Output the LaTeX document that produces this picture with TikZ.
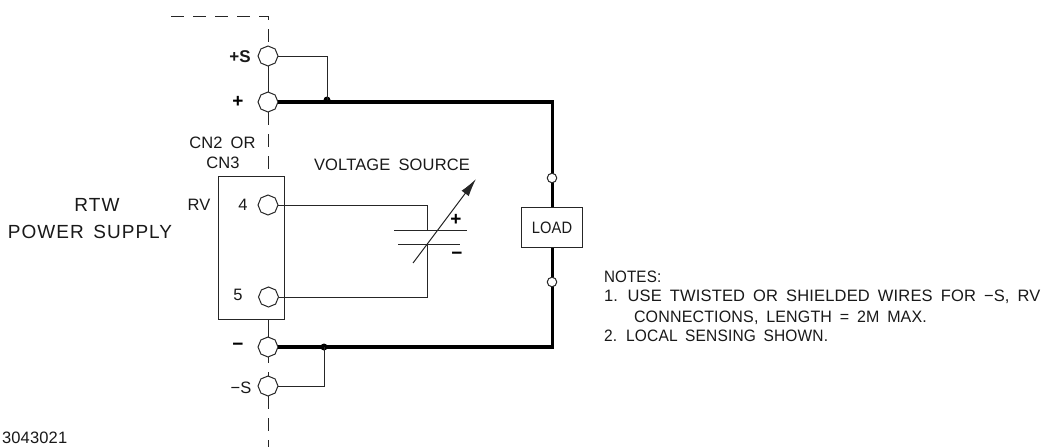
\documentclass[tikz,border=0pt]{standalone}
\usepackage{fontspec}
\usepackage{graphicx}
\setmainfont{Liberation Sans}[LetterSpace=1,WordSpace=1.7]
\newfontfamily\wide{Liberation Sans}[LetterSpace=5.5,WordSpace=1.5]
\usetikzlibrary{shapes.geometric,arrows.meta}
\tikzset{
  wire/.style={line width=1pt,draw=black!85},
  power/.style={line width=3.6pt,draw=black,line join=miter},
  dashwire/.style={wire,dash pattern=on 12.5pt off 9.5pt},
  term/.style={regular polygon,regular polygon sides=8,regular polygon rotate=22.5,draw=black!85,line width=1pt,fill=white,inner sep=0pt,outer sep=0pt,minimum size=20pt},
  smallterm/.style={circle,draw=black!85,line width=1pt,fill=white,inner sep=0pt,outer sep=0pt,minimum size=9.5pt},
  dot/.style={circle,fill=black,inner sep=0pt,minimum size=7pt},
  boxx/.style={rectangle,draw=black!85,line width=1pt,fill=white,inner sep=0pt,outer sep=0pt},
  lab/.style={inner sep=0pt,outer sep=0pt,font=\fontsize{16.5}{16.5}\selectfont,text=black!90},
  big/.style={inner sep=0pt,outer sep=0pt,font=\wide\fontsize{19}{19}\selectfont,text=black!90},
  sym/.style={inner sep=0pt,outer sep=0pt,font=\bfseries\fontsize{19}{19}\selectfont,text=black},
}
\begin{document}
\begin{tikzpicture}[x=1pt,y=-1pt]
\useasboundingbox (0,0) rectangle (1052,447);
\fill[white] (0,0) rectangle (1052,447);
% nodes
\node[boxx,minimum width=66pt,minimum height=143pt] (block) at (251,247.5) {};
\node[term] (tps) at (268,56) {};
\node[term] (tp) at (268,102) {};
\node[term] (t4) at (268,205) {};
\node[term] (t5) at (268.5,297) {};
\node[term] (tm) at (268,347) {};
\node[term] (tms) at (268,386) {};
\coordinate (dstart) at (171,16);
\coordinate (dcorner) at (268,16);
\coordinate (dend) at (268,447);
\coordinate (c1) at (552.5,102);
\coordinate (c2) at (552.5,347);
\coordinate (jt) at (327,100);
\coordinate (jb) at (324,347);
\coordinate (p1a) at (394,230);
\coordinate (p1b) at (467,230);
\coordinate (p2a) at (398,244);
\coordinate (p2b) at (460,244);
\coordinate (bt) at (427,230);
\coordinate (bb) at (427,244);
\coordinate (as) at (413,263);
\coordinate (ae) at (476,179);
% dashed supply
\draw[dashwire] (dstart) -- (dcorner) -- (tps.north);
\draw[wire] (tps.south) -- (tp.north);
\draw[dashwire] (tp.south) -- (block.north -| tp.south);
\draw[wire] (block.south -| tm.north) -- (tm.north);
\draw[dashwire,dash pattern=on 6pt off 9pt] (tm.south) -- (tms.north);
\draw[dashwire] (tms.south) -- (dend);
% power
\draw[power] (tp.east) -- (c1) -- (c2) -- (tm.east);
\node[dot] (dt) at (jt) {};
\node[dot] (db) at (jb) {};
\draw[wire] (tps.east) -| (dt.center);
\draw[wire] (tms.east) -| (db.center);
% load
\node[boxx,minimum width=61pt,minimum height=40pt] (load) at (551.5,227) {};
\node[lab] (loadt) at (552,228) {\scalebox{0.89}[1]{LOAD}};
\node[smallterm] (s1) at (552,178) {};
\node[smallterm] (s2) at (552,282) {};
% battery
\draw[wire] (t4.east) -| (bt);
\draw[wire] (t5.east) -| (bb);
\draw[wire] (p1a) -- (p1b);
\draw[wire] (p2a) -- (p2b);
\draw[wire,-{Latex[length=18pt,width=9pt]}] (as) -- (ae);
% labels
\node[lab,font=\bfseries\fontsize{17}{17}\selectfont] (lps) at (240,57) {+S};
\node[sym] (lp) at (238,102) {+};
\node[lab] (lcn2) at (222.5,143) {CN2 OR};
\node[lab] (lcn3) at (223,163) {CN3};
\node[lab] (lv) at (392,165) {VOLTAGE SOURCE};
\node[lab] (lrv) at (199,205) {RV};
\node[lab] (l4) at (243,205) {4};
\node[lab] (l5) at (238,295) {5};
\node[lab] (lms) at (241,388) {−S};
\node[sym] (lm) at (238,347) {−};
\node[sym] (lbp) at (456,220) {+};
\node[sym] (lbm) at (457,256) {−};
\node[big] (lrtw) at (97,205) {RTW};
\node[big] (lpw) at (90,232) {POWER SUPPLY};
\node[lab,anchor=west] (lnum) at (2,438) {3043021};
\node[lab,anchor=west] (n0) at (604,277) {\scalebox{0.92}[1]{NOTES:}};
\node[lab,anchor=west] (n1) at (604,297) {1. USE TWISTED OR SHIELDED WIRES FOR −S, RV};
\node[lab,anchor=west] (n2) at (634,318) {\scalebox{0.97}[1]{CONNECTIONS, LENGTH = 2M MAX.}};
\node[lab,anchor=west] (n3) at (604,336) {\scalebox{0.94}[1]{2. LOCAL SENSING SHOWN.}};
\end{tikzpicture}
\end{document}
